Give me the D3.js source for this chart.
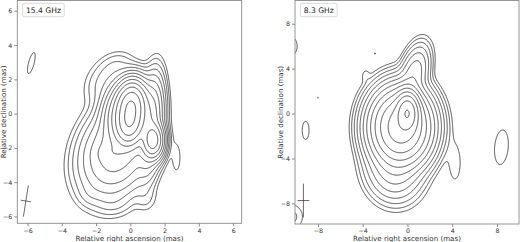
<!DOCTYPE html>
<html><head><meta charset="utf-8">
<script src="https://cdn.jsdelivr.net/npm/d3@7"></script>
<style>body{margin:0;background:#fff}svg{display:block}</style>
</head><body>
<svg id="c" width="520" height="242"></svg>
<script>
// ---------------- data ----------------
const panelLabels = ["15.4 GHz", "8.3 GHz"];
const xTicks15 = [-6, -4, -2, 0, 2, 4, 6];
const yTicks15 = [-6, -4, -2, 0, 2, 4, 6];
const xTicks8 = [-8, -4, 0, 4, 8];
const yTicks8 = [-8, -4, 0, 4, 8];
const xDomain15 = [-6.6, 6.5], yDomain15 = [-6.4, 6.6];
const xDomain8 = [-10.05, 9.97], yDomain8 = [-9.84, 10.07];

// contour levels (mJy/beam), factor 2 apart
const levels15 = [0.4, 0.8, 1.6, 3.2, 6.4, 12.8, 25.6, 51.2, 102.4, 204.8, 409.6, 819.2];
const levels8 = [0.12, 0.24, 0.48, 0.96, 1.92, 3.84, 7.68, 15.36, 30.72, 61.44, 122.88, 245.76, 491.52];

// Gaussian brightness components: position (mas), peak, major/minor sigma (mas), PA (deg)
const comp15X    = [0.05, -0.05, -0.05, 1.33, 1.2,  -0.8, -1.2, -1.5, -0.8, 2.7,  -5.78, -2.4, 0.9,  -1.0];
const comp15Y    = [0.55, -0.55,  0,   -1.55, -0.6, -2.2, -2.3,  1.8,  2.8, -2.6,  2.95, -4.7, -4.9, -5.2];
const comp15Amp  = [560,  560,   330,  280,   60,   40,   8,     2,    1.2,  0.6,  0.6,   0.8,  0.8,  1.0];
const comp15Maj  = [0.6,  0.6,   0.85, 0.5,   1.3,  1.3,  0.5,   0.8,  0.6,  0.7,  0.7,   0.4,  0.5,  0.6];
const comp15Min  = [0.38, 0.38,  0.6,  0.3,   0.33, 0.95, 0.3,   0.6,  0.45, 0.2,  0.18,  0.4,  0.4,  0.45];
const comp15PA   = [5,    5,     10,   0,     5,    23,   90,    30,   60,   0,    15,    0,    0,    90];

const comp8X   = [0,    -0.6, 0.6, -1.2, -3.75, 4.25, 8.4,  -9.1, -10.4, -10.4, -2.9, -8.0];
const comp8Y   = [0.1,  -1.2, 3.5, -5.0,  3.4, -4.4, -3.0, -1.5,  6.0,  -9.2,   5.35, 1.4];
const comp8Amp = [400,  190,  6,    5,    0.15, 0.2,  0.22, 0.2,   0.3,   0.3,   0.13, 0.13];
const comp8Maj = [0.85, 1.5,  1.3,  1.4,  0.4,  1.4,  1.4,  0.8,   0.6,   0.8,   0.12, 0.1];
const comp8Min = [0.5,  1.2,  0.6,  1.2,  0.25, 0.45, 0.55, 0.3,   0.4,   0.75,  0.12, 0.1];
const comp8PA  = [0,    0,    15,  -10,   0,    0,    5,    0,     0,     0,     0,    0];

// restoring beams
const beamX = [-6.1, -9.3], beamY = [-5.1, -7.75];
const beamMaj = [1.85, 3.0], beamMin = [0.6, 1.05], beamPA = [9, 0];

// ---------------- drawing ----------------
const svg = d3.select("#c");
const defs = svg.append("defs");
const panels = [
  {label: panelLabels[0], xd: xDomain15, yd: yDomain15, xt: xTicks15, yt: yTicks15, lv: levels15,
   c: [comp15X, comp15Y, comp15Amp, comp15Maj, comp15Min, comp15PA], box: [17.3, 241.7, 0.5, 223.3], b: 0, step: 0.035},
  {label: panelLabels[1], xd: xDomain8, yd: yDomain8, xt: xTicks8, yt: yTicks8, lv: levels8,
   c: [comp8X, comp8Y, comp8Amp, comp8Maj, comp8Min, comp8PA], box: [295, 519, 0.5, 224], b: 1, step: 0.05}
];

function makeField(c) {
  const [cx, cy, amp, maj, mn, pa] = c;
  const n = cx.length;
  const s = pa.map(p => Math.sin(p * Math.PI / 180));
  const co = pa.map(p => Math.cos(p * Math.PI / 180));
  return (x, y) => {
    let v = 0;
    for (let i = 0; i < n; i++) {
      const dx = x - cx[i], dy = y - cy[i];
      const u = dx * s[i] + dy * co[i];
      const w = dx * co[i] - dy * s[i];
      v += amp[i] * Math.exp(-0.5 * (u * u / (maj[i] * maj[i]) + w * w / (mn[i] * mn[i])));
    }
    return v;
  };
}

panels.forEach((p, pi) => {
  const [x0, x1, y0, y1] = p.box;
  const xs = d3.scaleLinear().domain(p.xd).range([x0, x1]);
  const ys = d3.scaleLinear().domain(p.yd).range([y1, y0]);
  const g = svg.append("g");
  const cid = "clip" + pi;
  defs.append("clipPath").attr("id", cid)
    .append("rect").attr("x", x0).attr("y", y0).attr("width", x1 - x0).attr("height", y1 - y0);

  // grid
  const h = p.step;
  const gx0 = p.xd[0] - 0.4, gx1 = p.xd[1] + 0.4;
  const gy0 = p.yd[0] - 0.4, gy1 = p.yd[1] + 0.4;
  const nx = Math.ceil((gx1 - gx0) / h) + 1, ny = Math.ceil((gy1 - gy0) / h) + 1;
  const f = makeField(p.c);
  const vals = new Float64Array(nx * ny);
  for (let j = 0; j < ny; j++) for (let i = 0; i < nx; i++) vals[j * nx + i] = f(gx0 + i * h, gy1 - j * h);
  const cs = d3.contours().size([nx, ny]).thresholds(p.lv)(vals);
  const path = d3.geoPath(d3.geoTransform({
    point: function (x, y) { this.stream.point(xs(gx0 + (x - 0.5) * h), ys(gy1 - (y - 0.5) * h)); }
  }));
  g.append("g").attr("clip-path", `url(#${cid})`)
    .selectAll("path").data(cs).join("path")
    .attr("d", path).attr("fill", "none").attr("stroke", "#303030").attr("stroke-width", 0.85);

  // beam cross
  const b = p.b;
  const t = beamPA[b] * Math.PI / 180;
  const bx = beamX[b], by = beamY[b];
  const ma = beamMaj[b] / 2, mi = beamMin[b] / 2;
  const bl = g.append("g").attr("stroke", "#444").attr("stroke-width", 0.8);
  bl.append("line").attr("x1", xs(bx - ma * Math.sin(t))).attr("y1", ys(by - ma * Math.cos(t)))
    .attr("x2", xs(bx + ma * Math.sin(t))).attr("y2", ys(by + ma * Math.cos(t)));
  bl.append("line").attr("x1", xs(bx - mi * Math.cos(t))).attr("y1", ys(by + mi * Math.sin(t)))
    .attr("x2", xs(bx + mi * Math.cos(t))).attr("y2", ys(by - mi * Math.sin(t)));

  // frame
  g.append("rect").attr("x", x0).attr("y", y0).attr("width", x1 - x0).attr("height", y1 - y0)
    .attr("fill", "none").attr("stroke", "#8a8a8a").attr("stroke-width", 0.9);

  // axes
  const fmt = d3.format("d");
  const ax = g.append("g").attr("transform", `translate(0,${y1})`)
    .call(d3.axisBottom(xs).tickValues(p.xt).tickFormat(fmt).tickSize(3).tickPadding(2));
  const ay = g.append("g").attr("transform", `translate(${x0},0)`)
    .call(d3.axisLeft(ys).tickValues(p.yt).tickFormat(fmt).tickSize(3).tickPadding(2));
  [ax, ay].forEach(a => {
    a.select(".domain").remove();
    a.selectAll("line").attr("stroke", "#8a8a8a");
    a.selectAll("text").attr("fill", "#333").style("font-family", "DejaVu Sans").style("font-size", "6.3px");
  });

  // axis titles
  g.append("text").attr("x", (x0 + x1) / 2).attr("y", 240.5).attr("text-anchor", "middle")
    .style("font-family", "DejaVu Sans").style("font-size", "7.1px").attr("fill", "#333")
    .text("Relative right ascension (mas)");
  g.append("text").attr("transform", `translate(${x0 - 11.6},${(y0 + y1) / 2}) rotate(-90)`)
    .attr("text-anchor", "middle")
    .style("font-family", "DejaVu Sans").style("font-size", "7.1px").attr("fill", "#333")
    .text("Relative declination (mas)");

  // label box
  const lbx = x0 + 5.4, lby = 3.3;
  const lg = g.append("g");
  const lr = lg.append("rect").attr("x", lbx).attr("y", lby).attr("height", 13.4)
    .attr("rx", 1.5).attr("fill", "#fff").attr("stroke", "#d0d0d0").attr("stroke-width", 0.8);
  const lt = lg.append("text").attr("x", lbx + 3.3).attr("y", lby + 9.8)
    .style("font-family", "DejaVu Sans").style("font-size", "7.6px").attr("fill", "#222").text(p.label);
  lr.attr("width", lt.node().getComputedTextLength() + 6.6);
});
</script>
</body></html>
